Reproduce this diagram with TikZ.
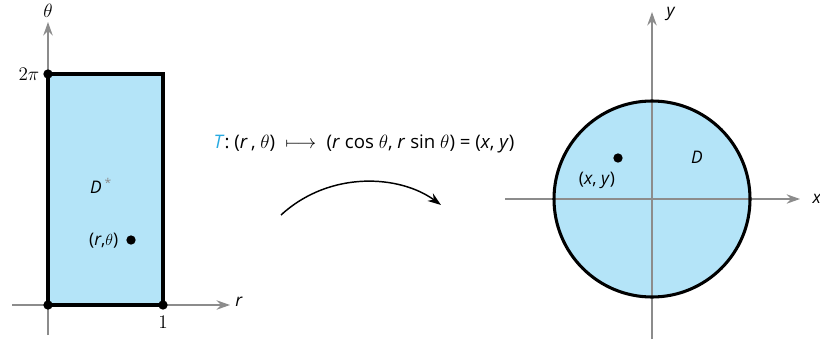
\documentclass[tikz,border=0pt]{standalone}
\usepackage{fontspec}
\setmainfont{Open Sans}
\usetikzlibrary{arrows.meta}
\definecolor{regionblue}{RGB}{180,228,248}
\definecolor{axisgray}{RGB}{140,140,140}
\definecolor{tcyan}{RGB}{40,170,225}
\begin{document}
\begin{tikzpicture}[x=0.75pt,y=-0.75pt,>=Stealth,every node/.style={font=\fontsize{13}{15}\selectfont},
  axis/.style={axisgray,line width=1.4pt,-{Stealth[length=10pt,width=7pt]}},
  region/.style={fill=regionblue,draw=black,line width=2.3pt},
  dot/.style={circle,fill=black,inner sep=0pt,minimum size=7pt},
  big/.style={font=\fontsize{14.5}{17}\selectfont}]
  \useasboundingbox (0,0) rectangle (820,339);
  % r-theta plane with D*
  \fill[regionblue] (48,74) rectangle (163,305);
  \draw[axis] (12,305) -- (230,305);
  \draw[axis] (48,335) -- (48,22);
  \draw[region,fill=none] (48,74) rectangle (163,305);
  \node[dot] (p00) at (48,305) {};
  \node[dot] (p10) at (163,305) {};
  \node[dot] (p02) at (48,74) {};
  \node[big] (thlab) at (48,11) {$\theta$};
  \node (rlab) at (239,302) {\textit{r}};
  \node[left,big] (twopi) at (44,74) {$2\pi$};
  \node[big] (one) at (163,322) {$1$};
  \node (dstar) at (101,186) {\textit{D}\,\textsuperscript{\color{axisgray}*}};
  \node[dot] (prt) at (131,240) {};
  \node[left] (prtlab) at (123,241) {(\textit{r},$\theta$)};
  % the map T
  \node[font=\fontsize{14}{16}\selectfont] (tmap) at (364,144) {{\color{tcyan}\textit{T}}: (\textit{r}\,, $\theta$) $\;\longmapsto\;$ (\textit{r} cos $\theta$, \textit{r} sin $\theta$) = (\textit{x}, \textit{y})};
  \coordinate (mapstart) at (281,215);
  \coordinate (mapend) at (441,205);
  \draw[line width=1.1pt,-{Stealth[length=10pt,width=7pt]}] (mapstart) .. controls (330,170) and (400,175) .. (mapend);
  % xy plane with D
  \fill[regionblue] (652,199) circle[radius=98];
  \draw[axis] (505,199) -- (800,199);
  \draw[axis] (652,339) -- (652,12);
  \draw[region,fill=none] (652,199) circle[radius=98];
  \node (ylab) at (671,14) {\textit{y}};
  \node (xlab) at (817,199) {\textit{x}};
  \node (dlab) at (697,157) {\textit{D}};
  \node[dot] (pxy) at (618,158) {};
  \node (pxylab) at (597,180) {(\textit{x}, \textit{y})};
\end{tikzpicture}
\end{document}
